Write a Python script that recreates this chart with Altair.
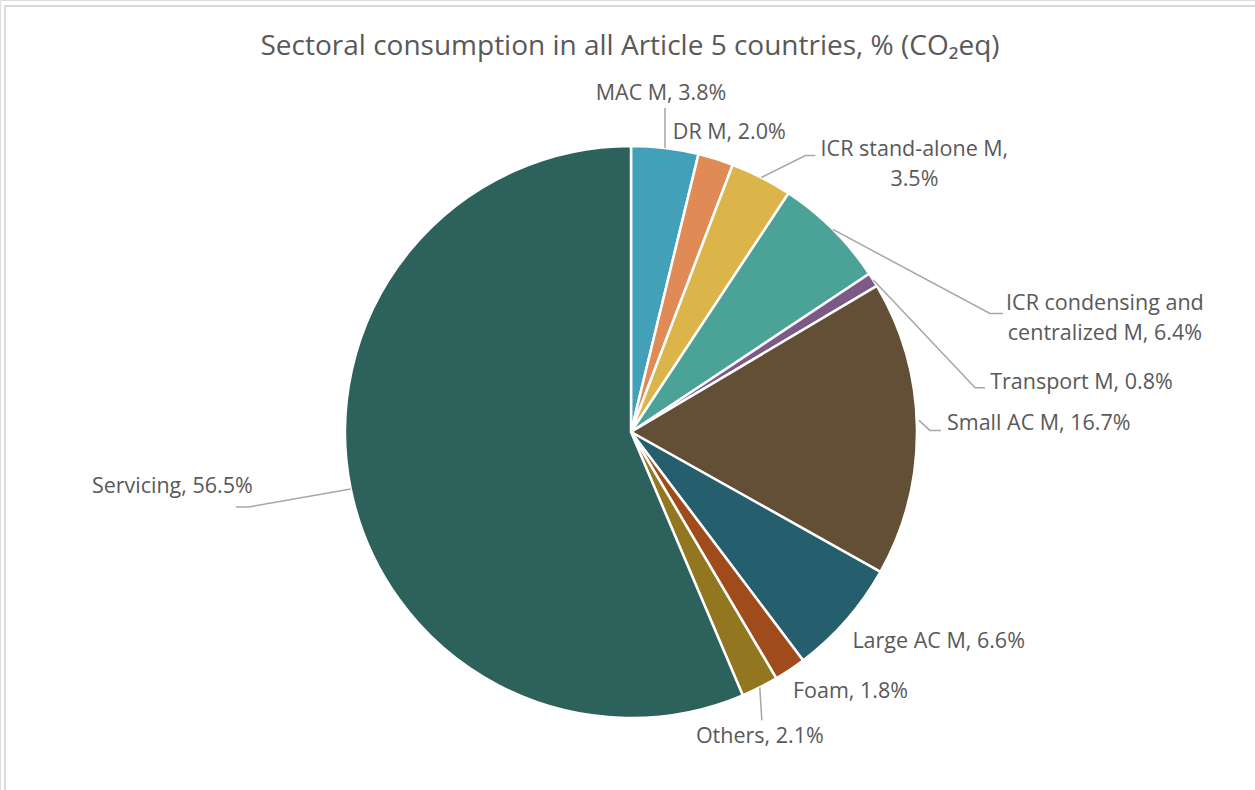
import altair as alt
import pandas as pd

W, H = 1255, 790
CX, CY, R = 631, 432, 286

categories = ["MAC M", "DR M", "ICR stand-alone M", "ICR condensing and centralized M",
              "Transport M", "Small AC M", "Large AC M", "Foam", "Others", "Servicing"]
values = [3.8, 2.0, 3.5, 6.4, 0.8, 16.7, 6.6, 1.8, 2.1, 56.5]
labels = ["MAC M, 3.8%", "DR M, 2.0%", "ICR stand-alone M,\n3.5%",
          "ICR condensing and\ncentralized M, 6.4%", "Transport M, 0.8%",
          "Small AC M, 16.7%", "Large AC M, 6.6%", "Foam, 1.8%", "Others, 2.1%",
          "Servicing, 56.5%"]
colors = ["#42A1B9", "#E08B56", "#DCB54A", "#4BA398", "#7D5A86",
          "#624F35", "#255F6E", "#A04B1C", "#937620", "#2D615B"]

# layout (style) lists: label offset from the slice's rim point, alignment, leader line offsets
lab_dx = [-4, -43, 153, 272, 117, 30, 6, 3, 0, -98]
lab_dy = [-54, -26, -27, 75, 103, -4, 22, 22, 50, -2]
lab_align = ["center", "left", "center", "center", "left", "left", "left", "left", "center", "right"]
line_dx = [[0, 0, 0], [], [0, 44, 54], [0, 157, 170], [0, 102, 112],
           [2, 13, 24], [], [], [0, 2, 2], [0, -102, -115]]
line_dy = [[0, -40, -40], [], [0, -22, -22], [0, 84, 84], [0, 108, 108],
           [-8, 2, 2], [], [], [0, 33, 33], [0, 18, 18]]

df = pd.DataFrame({
    "category": categories,
    "value": values,
    "label": labels,
    "order": list(range(len(categories))),
    "ldx": lab_dx,
    "ldy": lab_dy,
    "align": lab_align,
    "pt": [list(range(len(d))) for d in line_dx],
    "odx": line_dx,
    "ody": line_dy,
})

FONT = "Open Sans"
TXT = "#595959"

base = alt.Chart(df).transform_joinaggregate(
    total="sum(value)"
).transform_window(
    cum="sum(value)", sort=[alt.SortField("order")], frame=[None, 0]
).transform_calculate(
    mid="(datum.cum - datum.value/2) / datum.total * 2 * PI",
    rx=f"{CX} + {R} * sin(datum.mid)",
    ry=f"{CY} - {R} * cos(datum.mid)",
)

one = pd.DataFrame({"t": ["Sectoral consumption in all Article 5 countries, % (CO₂eq)"]})

border = alt.Chart(one).mark_rect(fillOpacity=0, stroke="#D9D9D9", strokeWidth=2).encode(
    x=alt.value(5), x2=alt.value(W + 20), y=alt.value(6), y2=alt.value(H + 20)
)

title = alt.Chart(one).mark_text(font=FONT, fontSize=28, color=TXT, align="center",
                                 baseline="middle").encode(
    x=alt.value(630), y=alt.value(47), text="t:N"
)

pie = alt.Chart(df).mark_arc(outerRadius=R, stroke="white", strokeWidth=2.5).encode(
    theta=alt.Theta("value:Q", stack=True),
    order=alt.Order("order:Q"),
    color=alt.Color("category:N", scale=alt.Scale(domain=categories, range=colors), legend=None),
    x=alt.value(CX),
    y=alt.value(CY),
)

text_layers = []
for al in ["left", "center", "right"]:
    t = base.transform_filter(f"datum.align == '{al}'").transform_calculate(
        tx="datum.rx + datum.ldx", ty="datum.ry + datum.ldy"
    ).mark_text(align=al, baseline="middle", font=FONT, fontSize=21.5, color=TXT,
                lineBreak="\n", lineHeight=30).encode(
        x=alt.X("tx:Q", scale=None, axis=None),
        y=alt.Y("ty:Q", scale=None, axis=None),
        text="label:N",
    )
    text_layers.append(t)

lines = base.transform_flatten(["pt", "odx", "ody"]).transform_calculate(
    lx="datum.rx + datum.odx", ly="datum.ry + datum.ody"
).mark_line(color="#A6A6A6", strokeWidth=1.5).encode(
    x=alt.X("lx:Q", scale=None, axis=None),
    y=alt.Y("ly:Q", scale=None, axis=None),
    detail="category:N",
    order="pt:Q",
)

chart = alt.layer(border, title, pie, lines, *text_layers).properties(
    width=W, height=H, padding=0, autosize=alt.AutoSizeParams(type="none")
).configure_view(stroke=None).configure(background="white")

chart.save("out.html", embed_options={"renderer": "svg", "actions": False})
